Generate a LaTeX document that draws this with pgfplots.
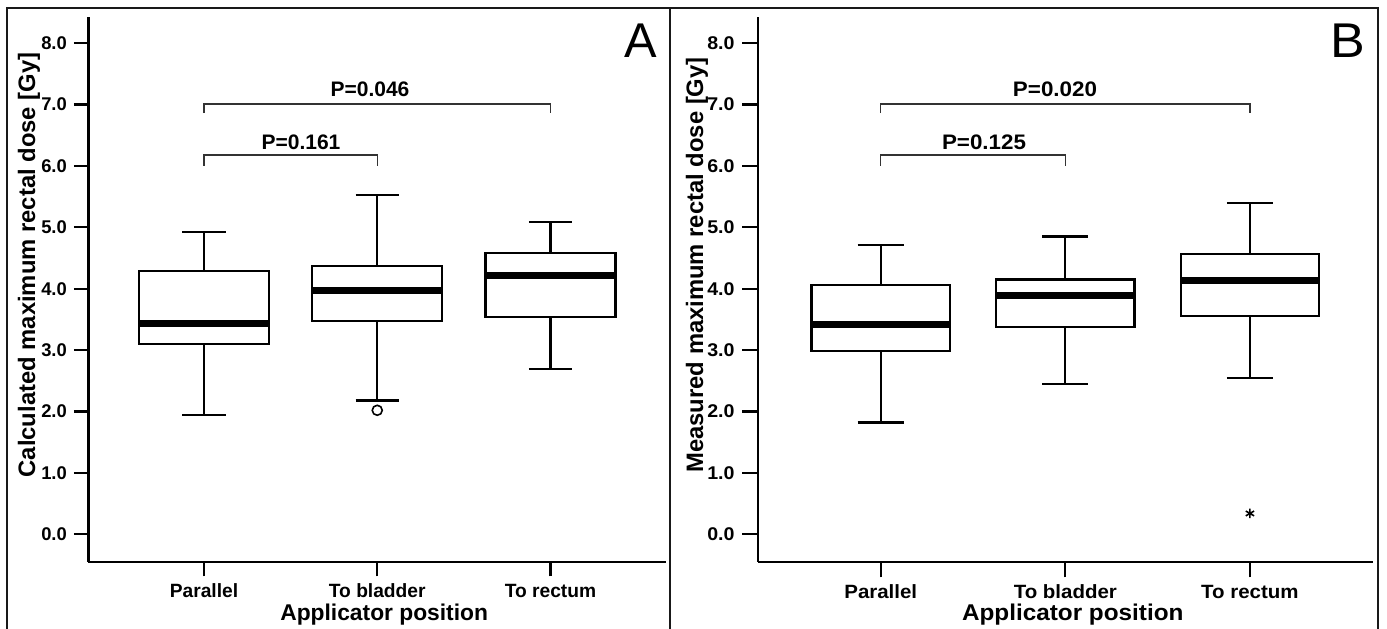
\documentclass[border=0pt]{standalone}
\usepackage{fontspec}
\setmainfont{Liberation Sans}
\usepackage{pgfplots}
\pgfplotsset{compat=1.18}
\usepgfplotslibrary{statistics}

% 1 px of the reference = 0.5pt
\pgfplotsset{
  dosebox/.style={
    scale only axis, height=272.5pt,
    xmin=0.3333, xmax=3.6667, ymin=-0.446, ymax=8.43,
    axis x line=bottom, axis y line=left,
    axis line style={-, line width=1.1pt, black},
    every tick/.style={black, line width=1.1pt},
    tick align=outside, major tick length=7.3pt,
    xtick={1,2,3}, xticklabels={Parallel,To bladder,To rectum},
    ytick={0,1,...,8},
    /pgf/number format/assume math mode=true,
    yticklabel style={/pgf/number format/fixed, /pgf/number format/zerofill,
      /pgf/number format/precision=1, font=\bfseries\fontsize{9.2}{10}\selectfont},
    xticklabel style={font=\bfseries\fontsize{9.6}{11}\selectfont,
      text height=7pt, text depth=0pt},
    xlabel style={font=\bfseries\fontsize{11.4}{13}\selectfont,
      at={(axis description cs:0.512,0)}, anchor=base, yshift=-29.15pt},
    clip=false,
    boxplot/draw direction=y,
    boxplot/box extend=0.75,
    boxplot/whisker extend=0.25,
    boxplot/every box/.style={draw=black, fill=white, line width=1.1pt},
    boxplot/every whisker/.style={black, line width=1.1pt},
    boxplot/every median/.style={black, line width=3.5pt},
  },
  bx/.style={black, line width=1.1pt, mark=none},
}
\tikzset{
  brk/.style={black!80, line width=0.7pt},
  pval/.style={font=\bfseries\fontsize{10.5}{12}\selectfont, anchor=base, inner sep=0pt},
}

\begin{document}
\begin{tikzpicture}
\useasboundingbox (0,0) rectangle (693.5pt,314pt);
\clip (0,0) rectangle (693.5pt,314pt);

% panel frames
\draw[line width=1pt, black!90] (3.5pt,-5pt) -- (3.5pt,310pt) -- (689pt,310pt) -- (689pt,-5pt);
\draw[line width=1pt, black!90] (334.75pt,310pt) -- (334.75pt,-5pt);

% ---------- A ----------
\begin{axis}[dosebox, at={(44.25pt,33.15pt)}, anchor=south west, width=288.75pt,
  xlabel={Applicator position}]
\addplot[bx, boxplot prepared={draw position=1, lower whisker=1.94, lower quartile=3.10,
  median=3.44, upper quartile=4.29, upper whisker=4.92}] coordinates {};
\addplot[bx, mark=o, mark size=2.5pt, mark options={line width=0.8pt, solid},
  boxplot prepared={draw position=2, lower whisker=2.18, lower quartile=3.47,
  median=3.97, upper quartile=4.37, upper whisker=5.53}]
  table[row sep=\\, y index=0] {data\\ 2.02\\};
\addplot[bx, boxplot prepared={draw position=3, lower whisker=2.69, lower quartile=3.54,
  median=4.21, upper quartile=4.58, upper whisker=5.09}] coordinates {};
\draw[brk] (axis cs:1,6.0) -- (axis cs:1,6.18) -- (axis cs:2,6.18) -- (axis cs:2,6.0);
\draw[brk] (axis cs:1,6.86) -- (axis cs:1,7.01) -- (axis cs:3,7.01) -- (axis cs:3,6.86);
\end{axis}
\node[rotate=90, anchor=base, inner sep=0pt, font=\bfseries\fontsize{11.9}{13}\selectfont]
  at (17.5pt,181.5pt) {Calculated maximum rectal dose [Gy]};
\node[pval] at (185pt,265.65pt) {P=0.046};
\node[pval] at (150.5pt,239.35pt) {P=0.161};
\node[anchor=base east, inner sep=0pt, font=\fontsize{24.4}{28}\selectfont] at (328.5pt,285pt) {A};

% ---------- B ----------
\begin{axis}[dosebox, at={(378.85pt,33.15pt)}, anchor=south west, width=307.65pt,
  major tick length=7.8pt,
  xlabel={Applicator position},
  xticklabel style={xscale=1.066}, yticklabel style={xscale=1.066},
  xlabel style={xscale=1.066}]
\addplot[bx, boxplot prepared={draw position=1, lower whisker=1.82, lower quartile=2.98,
  median=3.42, upper quartile=4.06, upper whisker=4.71}] coordinates {};
\addplot[bx, boxplot prepared={draw position=2, lower whisker=2.45, lower quartile=3.38,
  median=3.89, upper quartile=4.15, upper whisker=4.85}] coordinates {};
\addplot[bx, mark=asterisk, mark size=2.4pt, mark options={line width=0.8pt, solid},
  boxplot prepared={draw position=3, lower whisker=2.55, lower quartile=3.56,
  median=4.13, upper quartile=4.57, upper whisker=5.40}]
  table[row sep=\\, y index=0] {data\\ 0.34\\};
\draw[brk] (axis cs:1,6.0) -- (axis cs:1,6.18) -- (axis cs:2,6.18) -- (axis cs:2,6.0);
\draw[brk] (axis cs:1,6.86) -- (axis cs:1,7.01) -- (axis cs:3,7.01) -- (axis cs:3,6.86);
\end{axis}
\node[rotate=90, anchor=base, inner sep=0pt, font=\bfseries\fontsize{11.9}{13}\selectfont]
  at (351.5pt,181.5pt) {Measured maximum rectal dose [Gy]};
\node[pval, xscale=1.066] at (527.5pt,265.65pt) {P=0.020};
\node[pval, xscale=1.066] at (492pt,239.35pt) {P=0.125};
\node[anchor=base east, inner sep=0pt, xscale=1.066, font=\fontsize{24.4}{28}\selectfont] at (683pt,285pt) {B};
\end{tikzpicture}
\end{document}
